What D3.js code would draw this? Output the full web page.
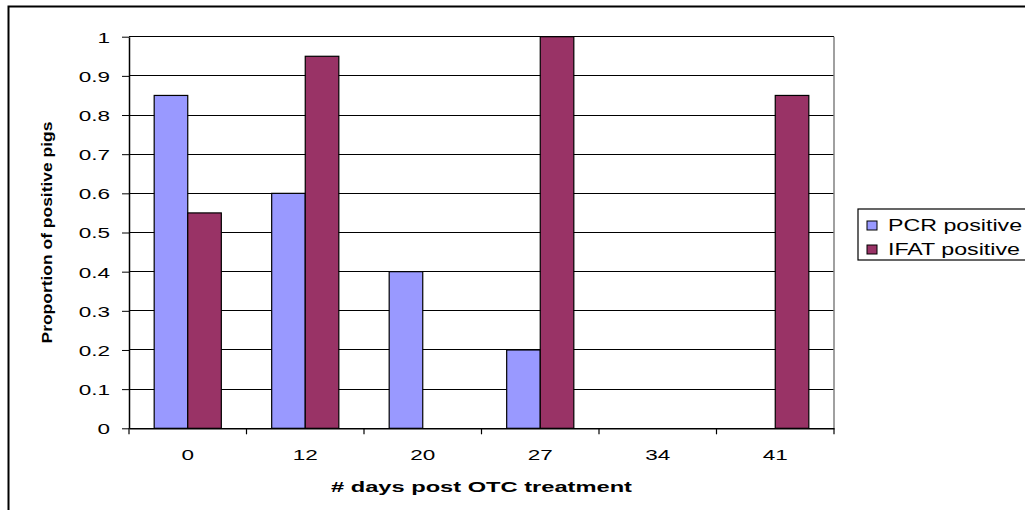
<!DOCTYPE html>
<html>
<head>
<meta charset="utf-8">
<script src="https://cdn.jsdelivr.net/npm/d3@7"></script>
<style>
  html, body { margin: 0; padding: 0; background: #fff; }
  svg { display: block; font-family: "Liberation Sans", Arial, sans-serif; }
</style>
</head>
<body>
<svg id="chart" width="1025" height="510"></svg>
<script>
// Days after OTC treatment and proportion of pigs testing positive
const categories = ["0", "12", "20", "27", "34", "41"];
const seriesNames = ["PCR positive", "IFAT positive"];
const pcrValues = [0.85, 0.6, 0.4, 0.2, 0, 0];
const ifatValues = [0.55, 0.95, 0, 1.0, 0, 0.85];
const yTicks = [0, 0.1, 0.2, 0.3, 0.4, 0.5, 0.6, 0.7, 0.8, 0.9, 1];
const yTickLabels = ["0", "0.1", "0.2", "0.3", "0.4", "0.5", "0.6", "0.7", "0.8", "0.9", "1"];
const colors = ["#9999FF", "#993366"];

const svg = d3.select("#chart");
const plot = { left: 129, right: 834, top: 36.7, bottom: 428.3 };

// Text in this chart is drawn wide; widen glyphs by factor k
function stretch(sel, k) {
  sel.each(function () {
    const w = this.getComputedTextLength();
    d3.select(this).attr("textLength", w * k).attr("lengthAdjust", "spacingAndGlyphs");
  });
}

// Outer chart frame
svg.append("rect")
  .attr("x", 8.5).attr("y", 6.5)
  .attr("width", 1100).attr("height", 600)
  .attr("fill", "none").attr("stroke", "#000").attr("stroke-width", 2);

const x = d3.scaleBand().domain(categories).range([plot.left, plot.right]);
const xInner = d3.scaleBand().domain(seriesNames)
  .range([0, x.bandwidth()]).paddingInner(0).paddingOuter(0.75);
const y = d3.scaleLinear().domain([0, 1]).range([plot.bottom, plot.top]);

// Horizontal gridlines
svg.append("g").selectAll("line").data(yTicks.filter(d => d > 0)).join("line")
  .attr("x1", plot.left).attr("x2", plot.right)
  .attr("y1", d => y(d)).attr("y2", d => y(d))
  .attr("stroke", "#000").attr("stroke-width", 1)
  .attr("shape-rendering", "crispEdges");

// Right edge of plot area
svg.append("line")
  .attr("x1", plot.right).attr("x2", plot.right)
  .attr("y1", plot.top).attr("y2", plot.bottom)
  .attr("stroke", "#808080").attr("stroke-width", 1.5);

// Bars
const rows = categories.map((c, i) => ({ c, vals: [pcrValues[i], ifatValues[i]] }));
const groups = svg.append("g").selectAll("g").data(rows).join("g")
  .attr("transform", d => `translate(${x(d.c)},0)`);
groups.selectAll("rect")
  .data(d => d.vals.map((v, j) => ({ v, s: seriesNames[j], j })).filter(e => e.v > 0))
  .join("rect")
  .attr("x", e => xInner(e.s))
  .attr("width", xInner.bandwidth())
  .attr("y", e => y(e.v))
  .attr("height", e => y(0) - y(e.v))
  .attr("fill", e => colors[e.j])
  .attr("stroke", "#000").attr("stroke-width", 1.2);

// Y axis
const yAxis = svg.append("g")
  .attr("transform", `translate(${plot.left},0)`)
  .call(d3.axisLeft(y).tickValues(yTicks)
    .tickFormat((d, i) => yTickLabels[i]).tickSize(7).tickPadding(12).tickSizeOuter(0));
yAxis.select(".domain").attr("stroke", "#000").attr("stroke-width", 1.5);
yAxis.selectAll(".tick line").attr("stroke", "#000");
yAxis.selectAll(".tick text")
  .attr("font-size", 15).attr("fill", "#000").attr("dy", "0.36em")
  .attr("font-family", "Liberation Sans, Arial, sans-serif")
  .call(stretch, 1.5);

// X axis: labels centered in categories, tick marks at category boundaries
const xAxis = svg.append("g")
  .attr("transform", `translate(0,${plot.bottom})`)
  .call(d3.axisBottom(x).tickSize(0).tickPadding(21.5).tickSizeOuter(0));
xAxis.select(".domain").attr("stroke", "#000").attr("stroke-width", 1.5);
xAxis.selectAll(".tick text")
  .attr("font-size", 15).attr("fill", "#000")
  .attr("font-family", "Liberation Sans, Arial, sans-serif")
  .call(stretch, 1.5);
const bounds = categories.map(c => x(c)).concat([x.range()[1]]);
xAxis.append("g").selectAll("line").data(bounds).join("line")
  .attr("x1", d => d).attr("x2", d => d)
  .attr("y1", 0).attr("y2", 6)
  .attr("stroke", "#000").attr("stroke-width", 1.2);

// Axis titles
svg.append("text")
  .attr("x", (plot.left + plot.right) / 2).attr("y", 492)
  .attr("text-anchor", "middle")
  .attr("font-size", 15).attr("font-weight", "bold")
  .attr("textLength", 301).attr("lengthAdjust", "spacingAndGlyphs")
  .text("# days post OTC treatment");

svg.append("text")
  .attr("transform", `translate(52,${(plot.top + plot.bottom) / 2}) rotate(-90)`)
  .attr("text-anchor", "middle")
  .attr("font-size", 14).attr("font-weight", "bold")
  .attr("textLength", 222).attr("lengthAdjust", "spacingAndGlyphs")
  .text("Proportion of positive pigs");

// Legend
const legend = svg.append("g").attr("transform", "translate(858,209)");
legend.append("rect")
  .attr("x", 0).attr("y", 0).attr("width", 200).attr("height", 51)
  .attr("fill", "#fff").attr("stroke", "#000").attr("stroke-width", 1.2);
const items = legend.selectAll("g.item").data(seriesNames).join("g")
  .attr("class", "item")
  .attr("transform", (d, i) => `translate(0,${12 + i * 24})`);
items.append("rect")
  .attr("x", 9).attr("y", 0).attr("width", 10).attr("height", 9)
  .attr("fill", (d, i) => colors[i]).attr("stroke", "#000").attr("stroke-width", 1);
items.append("text")
  .attr("x", 30).attr("y", 10)
  .attr("font-size", 16).attr("fill", "#000")
  .text(d => d)
  .call(stretch, 1.45);
</script>
</body>
</html>
